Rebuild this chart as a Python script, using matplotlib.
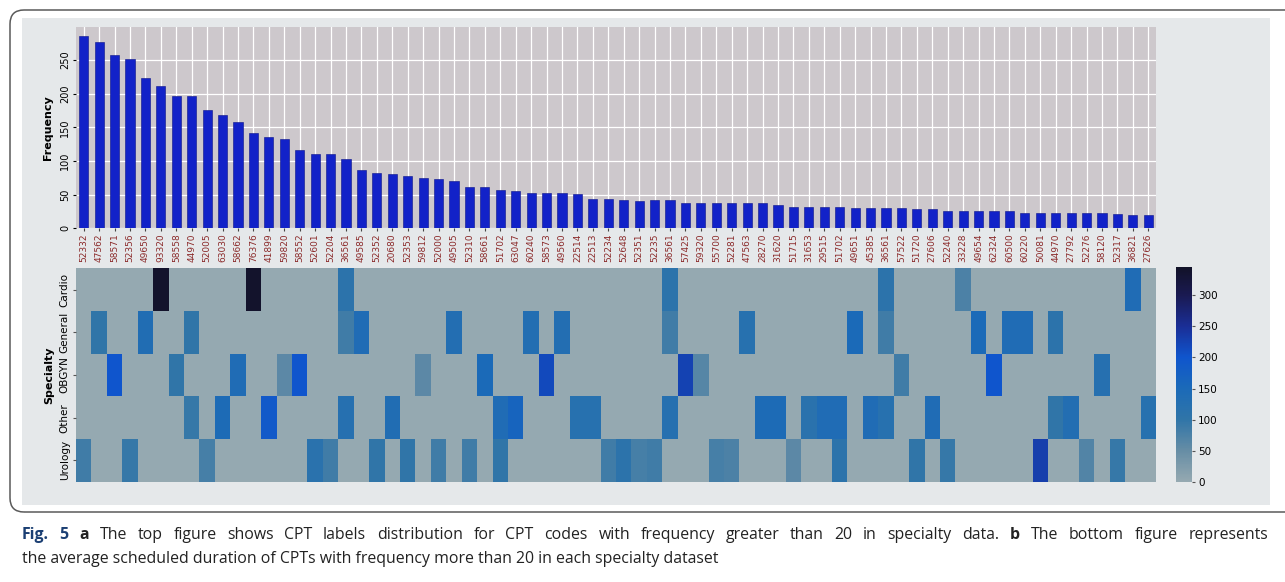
import numpy as np
import matplotlib
matplotlib.use("Agg")
import matplotlib.pyplot as plt
from matplotlib.colors import LinearSegmentedColormap
from matplotlib.patches import FancyBboxPatch, Rectangle

CODES = [
    "52332", "47562", "58571", "52356", "49650", "93320", "58558", "44970", "52005", "63030",
    "58662", "76376", "41899", "59820", "58552", "52601", "52204", "36561", "49585", "52352",
    "20680", "52353", "59812", "52000", "49505", "52310", "58661", "51702", "63047", "60240",
    "58573", "49560", "22514", "22513", "52234", "52648", "52351", "52235", "36561", "57425",
    "59320", "55700", "52281", "47563", "28270", "31620", "51715", "31653", "29515", "51702",
    "49651", "45385", "36561", "57522", "51720", "27606", "52240", "33228", "49654", "62324",
    "60500", "60220", "50081", "44970", "27792", "52276", "58120", "52317", "36821", "27626",
]
FREQUENCY = [
    285, 277, 257, 252, 223, 212, 197, 197, 176, 168,
    158, 142, 136, 133, 117, 110, 110, 103, 86, 82,
    80, 77, 75, 73, 70, 62, 61, 57, 56, 52,
    52, 52, 51, 44, 43, 42, 41, 42, 42, 38,
    38, 38, 38, 38, 38, 34, 32, 32, 32, 32,
    30, 30, 30, 30, 29, 29, 26, 25, 25, 25,
    25, 23, 23, 22, 22, 22, 22, 21, 20, 20,
]

SPECIALTIES = ["Cardio", "General", "OBGYN", "Other", "Urology"]
CARDIO = [
    0, 0, 0, 0, 0, 340, 0, 0, 0, 0,
    0, 340, 0, 0, 0, 0, 0, 110, 0, 0,
    0, 0, 0, 0, 0, 0, 0, 0, 0, 0,
    0, 0, 0, 0, 0, 0, 0, 0, 110, 0,
    0, 0, 0, 0, 0, 0, 0, 0, 0, 0,
    0, 0, 110, 0, 0, 0, 0, 75, 0, 0,
    0, 0, 0, 0, 0, 0, 0, 0, 140, 0,
]
GENERAL = [
    0, 100, 0, 0, 135, 0, 0, 100, 0, 0,
    0, 0, 0, 0, 0, 0, 0, 85, 140, 0,
    0, 0, 0, 0, 130, 0, 0, 0, 0, 130,
    0, 130, 0, 0, 0, 0, 0, 0, 85, 0,
    0, 0, 0, 120, 0, 0, 0, 0, 0, 0,
    150, 0, 85, 0, 0, 0, 0, 0, 150, 0,
    140, 140, 0, 110, 0, 0, 0, 0, 0, 0,
]
OBGYN = [
    0, 0, 200, 0, 0, 0, 100, 0, 0, 0,
    140, 0, 0, 60, 200, 0, 0, 0, 0, 0,
    0, 0, 60, 0, 0, 0, 150, 0, 0, 0,
    215, 0, 0, 0, 0, 0, 0, 0, 0, 225,
    65, 0, 0, 0, 0, 0, 0, 0, 0, 0,
    0, 0, 0, 85, 0, 0, 0, 0, 0, 200,
    0, 0, 0, 0, 0, 0, 125, 0, 0, 0,
]
OTHER = [
    0, 0, 0, 0, 0, 0, 0, 95, 0, 145,
    0, 0, 190, 0, 0, 0, 0, 125, 0, 0,
    135, 0, 0, 0, 0, 0, 0, 140, 165, 0,
    0, 0, 120, 120, 0, 0, 0, 0, 125, 0,
    0, 0, 0, 0, 145, 145, 0, 115, 140, 140,
    0, 140, 120, 0, 0, 140, 0, 0, 0, 0,
    0, 0, 0, 100, 130, 0, 0, 0, 0, 120,
]
UROLOGY = [
    85, 0, 0, 95, 0, 0, 0, 0, 80, 0,
    0, 0, 0, 0, 0, 115, 85, 0, 0, 100,
    0, 100, 0, 85, 0, 85, 0, 100, 0, 0,
    0, 0, 0, 0, 85, 110, 80, 85, 0, 0,
    0, 80, 75, 0, 0, 0, 60, 0, 0, 110,
    0, 0, 0, 0, 100, 0, 95, 0, 0, 0,
    0, 0, 230, 0, 0, 70, 0, 95, 0, 0,
]
CBAR_TICKS = [0, 50, 100, 150, 200, 250, 300]

CAPTION_1 = [
    ("Fig. 5", "bold"), ("a", "bold"),
    ("The top figure shows CPT labels distribution for CPT codes with frequency "
     "greater than 20 in specialty data.", "normal"),
    ("b", "bold"), ("The bottom figure represents", "normal"),
]
CAPTION_2 = ("the average scheduled duration of CPTs with frequency more than 20 "
             "in each specialty dataset")

W, H = 1285, 582


def px_box(left, top, right, bottom):
    # pixel box (from top-left) -> figure fraction rect
    return [left / W, 1 - bottom / H, (right - left) / W, (bottom - top) / H]


fig = plt.figure(figsize=(W / 100, H / 100), dpi=100)
fig.patch.set_facecolor("white")

# background panel and rounded frame
bg = fig.add_axes([0, 0, 1, 1], zorder=-5)
bg.axis("off")
bg.add_patch(Rectangle((0.22, (H - 505) / 100), 12.48, 4.87,
                       transform=fig.dpi_scale_trans, facecolor="#e5e8ea",
                       edgecolor="none"))
bg.add_patch(FancyBboxPatch((0.10, (H - 512) / 100), 13.0, 5.02,
                            boxstyle="round,pad=0,rounding_size=0.14",
                            transform=fig.dpi_scale_trans, facecolor="none",
                            edgecolor="#5a5a5a", linewidth=1.1))

x = np.arange(len(CODES))

# --- top: frequency bars
ax = fig.add_axes(px_box(76, 27, 1156, 228.3))
ax.set_facecolor("#cdc8cc")
ax.bar(x, FREQUENCY, width=0.6, color="#1222c8", edgecolor="#0a128a",
       linewidth=0.4, zorder=3)
ax.set_xlim(-0.5, len(CODES) - 0.5)
ax.set_ylim(0, 299)
ax.set_xticks(x)
ax.set_xticklabels(CODES, rotation=90, fontsize=6.5, color="#8b2a2a")
ax.set_yticks([0, 50, 100, 150, 200, 250])
ax.tick_params(axis="y", labelsize=7, rotation=90, length=2, pad=2)
ax.tick_params(axis="x", length=2, pad=1.5, color="#444444")
for lab in ax.get_yticklabels():
    lab.set_va("center")
ax.grid(True, color="white", linewidth=0.9, zorder=0)
for s in ax.spines.values():
    s.set_visible(False)
ax.set_ylabel("Frequency", fontsize=8, fontweight="bold", labelpad=5)

# --- bottom: average scheduled duration heatmap
cmap = LinearSegmentedColormap.from_list("dur", [
    (0.0, "#95a9b1"),
    (0.145, "#668da5"),
    (0.29, "#3075a8"),
    (0.435, "#1b6ab8"),
    (0.58, "#0f55cd"),
    (0.725, "#1a2e96"),
    (0.87, "#1a1a52"),
    (1.0, "#121228"),
])
duration = np.array([CARDIO, GENERAL, OBGYN, OTHER, UROLOGY])
hx = fig.add_axes(px_box(76, 268.3, 1156, 481.7))
mesh = hx.pcolormesh(np.arange(len(CODES) + 1) - 0.5,
                     np.arange(len(SPECIALTIES) + 1) - 0.5,
                     duration, cmap=cmap, vmin=0, vmax=345)
hx.set_xlim(-0.5, len(CODES) - 0.5)
hx.set_ylim(len(SPECIALTIES) - 0.5, -0.5)
hx.set_xticks([])
hx.set_yticks(np.arange(len(SPECIALTIES)))
hx.set_yticklabels(SPECIALTIES, rotation=90, va="center", fontsize=7.5)
hx.tick_params(axis="y", length=2.5, pad=2, color="#555555")
for s in hx.spines.values():
    s.set_visible(False)
hx.set_ylabel("Specialty", fontsize=8, fontweight="bold", labelpad=4)

cax = fig.add_axes(px_box(1176, 267, 1192, 482))
cb = fig.colorbar(mesh, cax=cax, ticks=CBAR_TICKS)
cb.outline.set_visible(False)
cax.tick_params(labelsize=7.5, length=2.5, pad=2, color="#555555")

# --- caption (first line justified between the panel edges)
fs = 11.4
font = "Open Sans"
words = []
for i, (chunk, weight) in enumerate(CAPTION_1):
    for w in chunk.split(" "):
        col = "#1b3f73" if i == 0 else "#222222"
        words.append((w, weight, col))

renderer = fig.canvas.get_renderer()
texts = []
for w, weight, col in words:
    t = fig.text(0, 1 - 543 / H, w, fontsize=fs, fontweight=weight, color=col,
                 family=font, ha="left", va="bottom")
    texts.append(t)
widths = [t.get_window_extent(renderer).width for t in texts]
left_px, right_px = 22, 1268
gap = (right_px - left_px - sum(widths)) / (len(texts) - 1)
pos = left_px
for t, wd in zip(texts, widths):
    t.set_x(pos / W)
    pos += wd + gap

fig.text(22 / W, 1 - 567 / H, CAPTION_2, fontsize=fs, color="#222222",
         family=font, ha="left", va="bottom")

fig.savefig("out.png", dpi=100)
